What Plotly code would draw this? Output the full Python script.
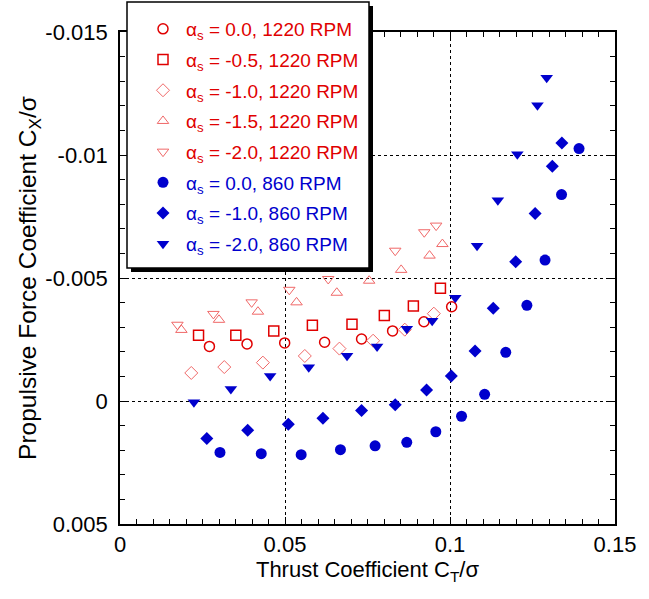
import plotly.graph_objects as go

# alpha_s = 0.0, 1220 RPM
ct_r00 = [0.0271, 0.0385, 0.0499, 0.0620, 0.0732, 0.0826, 0.0921, 0.1005]
cx_r00 = [-0.00222, -0.00232, -0.00236, -0.00239, -0.00252, -0.00285, -0.00322, -0.00383]
# alpha_s = -0.5, 1220 RPM
ct_r05 = [0.0238, 0.0351, 0.0466, 0.0583, 0.0703, 0.0801, 0.0889, 0.0971]
cx_r05 = [-0.00267, -0.00267, -0.00285, -0.00308, -0.00312, -0.00348, -0.00386, -0.00458]
# alpha_s = -1.0, 1220 RPM
ct_r10 = [0.0216, 0.0316, 0.0433, 0.0560, 0.0665, 0.0767, 0.0863, 0.0951]
cx_r10 = [-0.00114, -0.00138, -0.00156, -0.00183, -0.00213, -0.00245, -0.00290, -0.00355]
# alpha_s = -1.5, 1220 RPM
ct_r15 = [0.0186, 0.0300, 0.0418, 0.0535, 0.0657, 0.0755, 0.0852, 0.0938, 0.0977]
cx_r15 = [-0.00289, -0.00330, -0.00363, -0.00401, -0.00440, -0.00489, -0.00533, -0.00591, -0.00638]
# alpha_s = -2.0, 1220 RPM
ct_r20 = [0.0174, 0.0283, 0.0399, 0.0513, 0.0631, 0.0834, 0.0922, 0.0958]
cx_r20 = [-0.00310, -0.00354, -0.00401, -0.00452, -0.00496, -0.00611, -0.00686, -0.00713]
# alpha_s = 0.0, 860 RPM
ct_b00 = [0.0303, 0.0428, 0.0549, 0.0668, 0.0773, 0.0869, 0.0957, 0.1035, 0.1105, 0.1169, 0.1233, 0.1288, 0.1338, 0.1391]
cx_b00 = [0.00209, 0.00214, 0.00218, 0.00198, 0.00182, 0.00168, 0.00125, 0.00062, -0.00027, -0.00198, -0.00389, -0.00573, -0.00839, -0.01026]
# alpha_s = -1.0, 860 RPM
ct_b10 = [0.0263, 0.0387, 0.0510, 0.0615, 0.0732, 0.0834, 0.0929, 0.1004, 0.1076, 0.1131, 0.1199, 0.1258, 0.1310, 0.1339]
cx_b10 = [0.00152, 0.00119, 0.00095, 0.00070, 0.00039, 0.00015, -0.00045, -0.00102, -0.00203, -0.00377, -0.00566, -0.00762, -0.00954, -0.01049]
# alpha_s = -2.0, 860 RPM
ct_b20 = [0.0224, 0.0336, 0.0455, 0.0572, 0.0688, 0.0779, 0.0869, 0.0946, 0.1016, 0.1082, 0.1145, 0.1204, 0.1265, 0.1293]
cx_b20 = [0.00005, -0.00049, -0.00102, -0.00137, -0.00184, -0.00222, -0.00294, -0.00326, -0.00420, -0.00631, -0.00816, -0.01003, -0.01202, -0.01314]

x_tick_vals = [0, 0.05, 0.1, 0.15]
x_tick_text = ["0", "0.05", "0.1", "0.15"]
y_tick_vals = [-0.015, -0.01, -0.005, 0, 0.005]
y_tick_text = ["-0.015", "-0.01", "-0.005", "0", "0.005"]

RED = "#e00000"
PINK = "#f06868"
BLUE = "#0000cd"

series = [
    (ct_r00, cx_r00, "0.0, 1220 RPM", "circle-open", RED, 10, 1.5, RED),
    (ct_r05, cx_r05, "-0.5, 1220 RPM", "square-open", RED, 10, 1.5, RED),
    (ct_r10, cx_r10, "-1.0, 1220 RPM", "diamond-open", PINK, 10, 1, RED),
    (ct_r15, cx_r15, "-1.5, 1220 RPM", "triangle-up-open", PINK, 10, 1, RED),
    (ct_r20, cx_r20, "-2.0, 1220 RPM", "triangle-down-open", PINK, 10, 1, RED),
    (ct_b00, cx_b00, "0.0, 860 RPM", "circle", BLUE, 11, 0, BLUE),
    (ct_b10, cx_b10, "-1.0, 860 RPM", "diamond", BLUE, 10, 0, BLUE),
    (ct_b20, cx_b20, "-2.0, 860 RPM", "triangle-down", BLUE, 11, 0, BLUE),
]

fig = go.Figure()
for i, (xs, ys, lab, sym, col, sz, lw, tcol) in enumerate(series):
    fig.add_trace(go.Scatter(
        x=xs, y=ys, mode="markers", legendgroup=f"g{i}",
        name=f"<span style='color:{tcol}'>α<sub>s</sub> = {lab}</span>",
        marker=dict(symbol=sym, size=sz, color=col, line=dict(width=lw, color=col)),
    ))

W, H = 649, 599
L, R, T, B = 120, 34, 32, 75
pw, ph = W - L - R, H - T - B

def px2paper(x, y):
    return (x - L) / pw, (H - B - y) / ph

# legend drop shadow and box
sx0, sy0 = px2paper(131, 272)
sx1, sy1 = px2paper(373, 6)
fig.add_shape(type="rect", xref="paper", yref="paper", x0=sx0, y0=sy0, x1=sx1, y1=sy1,
              fillcolor="black", line=dict(width=0), layer="above")
bx0, by0 = px2paper(127, 268)
bx1, by1 = px2paper(369, 2)
fig.add_shape(type="rect", xref="paper", yref="paper", x0=bx0, y0=by0, x1=bx1, y1=by1,
              fillcolor="white", line=dict(width=1.5, color="black"), layer="above")

lx, ly = px2paper(127, 10)
font = "Arial, Liberation Sans, sans-serif"
fig.update_layout(
    width=W, height=H,
    margin=dict(l=L, r=R, t=T, b=B, autoexpand=False),
    paper_bgcolor="white", plot_bgcolor="white",
    font=dict(family=font, color="black"),
    showlegend=True,
    legend=dict(x=lx, y=ly, xanchor="left", yanchor="top",
                bgcolor="rgba(0,0,0,0)", borderwidth=0,
                font=dict(size=19, family=font), indentation=13, itemwidth=36,
                tracegroupgap=3),
    xaxis=dict(
        range=[0, 0.15], tickvals=x_tick_vals, ticktext=x_tick_text,
        ticks="inside", ticklen=7, tickcolor="black", showline=True, linecolor="black",
        linewidth=1.5, mirror="allticks", showgrid=True, gridcolor="black", griddash="dot",
        gridwidth=1, zeroline=False, tickfont=dict(size=22),
        minor=dict(ticks="inside", dtick=0.005, ticklen=5, tickcolor="black", showgrid=False),
        title=dict(text="Thrust Coefficient C<sub>T</sub>/σ", font=dict(size=22), standoff=4),
    ),
    yaxis=dict(
        range=[0.005, -0.015], tickvals=y_tick_vals,
        ticktext=[t + "\u00a0" for t in y_tick_text],
        ticks="inside", ticklen=7, tickcolor="black", showline=True, linecolor="black",
        linewidth=1.5, mirror="allticks", showgrid=True, gridcolor="black", griddash="dot",
        gridwidth=1, zeroline=False, tickfont=dict(size=22),
        minor=dict(ticks="inside", dtick=0.001, ticklen=5, tickcolor="black", showgrid=False),
        title=dict(text="Propulsive Force Coefficient C<sub>X</sub>/σ", font=dict(size=24.5), standoff=2),
    ),
)

fig.write_html("out.html")
